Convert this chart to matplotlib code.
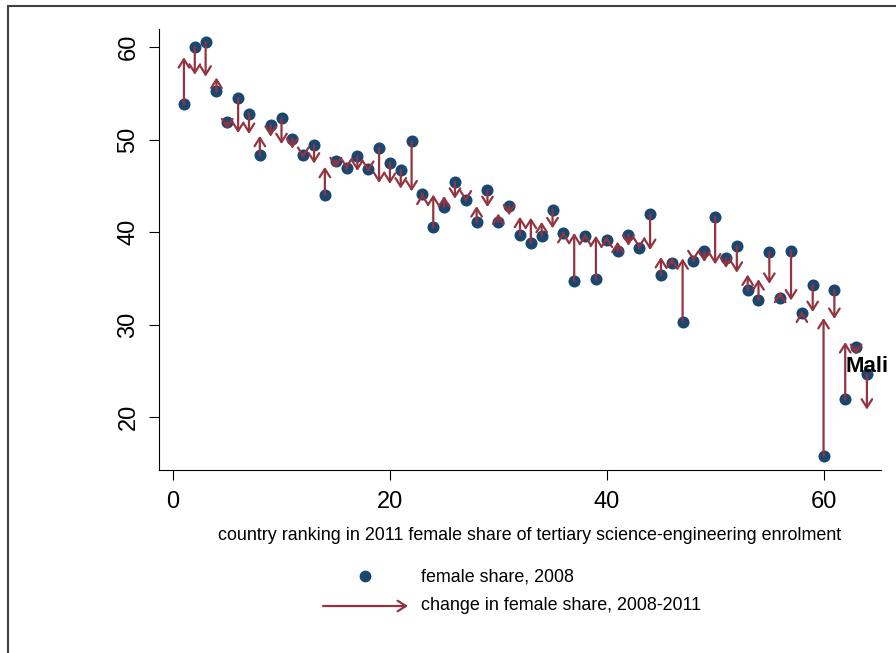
import numpy as np
import matplotlib.pyplot as plt
from matplotlib.patches import Rectangle

plt.rcParams['font.family'] = ['Liberation Sans', 'DejaVu Sans']

# country ranking (2011) and female share of tertiary science-engineering enrolment
rank = np.arange(1, 65)
share_2008 = [53.8, 60.0, 60.5, 55.2, 51.9, 54.45, 52.8, 48.3, 51.6, 52.3,
              50.1, 48.3, 49.4, 44.0, 47.7, 46.9, 48.2, 46.8, 49.1, 47.5,
              46.7, 49.8, 44.1, 40.5, 42.7, 45.4, 43.5, 41.1, 44.5, 41.1,
              42.8, 39.7, 38.8, 39.6, 42.4, 39.85, 34.7, 39.6, 34.9, 39.1,
              37.9, 39.7, 38.3, 41.9, 35.3, 36.6, 30.3, 36.9, 37.9, 41.65,
              37.15, 38.5, 33.7, 32.65, 37.8, 32.9, 37.95, 31.2, 34.3, 15.8,
              33.7, 21.9, 27.6, 24.6]
share_2011 = [58.9, 57.0, 56.8, 56.7, 51.1, 50.7, 50.6, 50.4, 50.3, 49.5,
              49.0, 48.0, 47.4, 47.05, 46.9, 46.8, 46.6, 46.5, 45.3, 45.2,
              44.7, 44.4, 44.15, 44.05, 43.9, 43.6, 43.3, 42.8, 42.7, 42.0,
              41.8, 41.65, 41.55, 41.1, 40.4, 40.0, 39.9, 39.8, 39.6, 39.5,
              38.95, 38.5, 38.2, 38.05, 37.3, 37.25, 37.15, 36.85, 36.75, 36.5,
              36.1, 35.6, 35.4, 34.9, 34.4, 33.55, 32.6, 31.4, 31.35, 30.7,
              30.6, 28.1, 26.7, 20.8]
xticks = [0, 20, 40, 60]
yticks = [20, 30, 40, 50, 60]

navy = '#1a476f'
cranberry = '#943440'
arrow_style = '->,head_length=0.6,head_width=0.38'

fig = plt.figure(figsize=(8.96, 6.53), dpi=100)
ax = fig.add_axes([159/896, 1 - 470/653, 722/896, 441/653])

ax.scatter(rank, share_2008, s=75, color=navy, zorder=2, linewidths=0)
for r, a, b in zip(rank, share_2008, share_2011):
    ax.annotate('', xy=(r, b), xytext=(r, a),
                arrowprops=dict(arrowstyle=arrow_style, color=cranberry, lw=1.6,
                                shrinkA=0, shrinkB=0), zorder=3)

ax.text(62.0, 25.5, 'Mali', fontsize=16, fontweight='bold', ha='left', va='center', zorder=4)

ax.set_xlim(-1.3, 65.3)
ax.set_ylim(14.27, 61.95)
ax.set_xticks(xticks)
ax.set_yticks(yticks)
ax.tick_params(axis='both', direction='out', length=7, width=0.8, labelsize=17)
ax.tick_params(axis='y', pad=7, labelrotation=90)
ax.tick_params(axis='x', pad=8)
for lab in ax.get_yticklabels():
    lab.set_va('center')
ax.spines['top'].set_visible(False)
ax.spines['right'].set_visible(False)
for s in ['left', 'bottom']:
    ax.spines[s].set_linewidth(0.8)

fig.text(530/896, 1 - 535/653, 'country ranking in 2011 female share of tertiary science-engineering enrolment',
         fontsize=12.9, ha='center', va='center')

# legend
fig.add_artist(plt.Line2D([365/896], [1 - 576/653], marker='o', markersize=8.5, color=navy,
                          markeredgewidth=0, linestyle='none', transform=fig.transFigure))
fig.text(421/896, 1 - 577/653, 'female share, 2008', fontsize=12.9, ha='left', va='center')
ax.annotate('', xy=(408, 653 - 606), xytext=(323, 653 - 606), xycoords='figure pixels',
            textcoords='figure pixels',
            arrowprops=dict(arrowstyle=arrow_style, color=cranberry, lw=1.6, shrinkA=0, shrinkB=0))
fig.text(421/896, 1 - 606/653, 'change in female share, 2008-2011', fontsize=12.9, ha='left', va='center')

# outer frame
fig.add_artist(Rectangle((8/896, -0.2), 1.2, 1 - 6/653 + 0.2, transform=fig.transFigure,
                         fill=False, edgecolor='#404040', linewidth=1.5))

fig.savefig('out.png', dpi=100)
